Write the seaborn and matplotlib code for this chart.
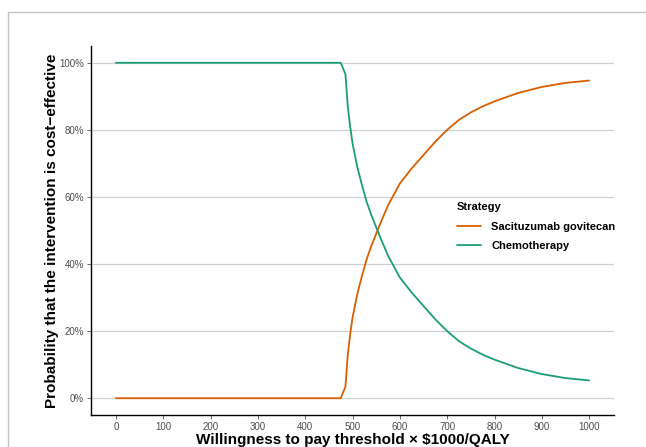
import numpy as np
import pandas as pd
import matplotlib.pyplot as plt
import seaborn as sns
from matplotlib.patches import Rectangle
from matplotlib.ticker import PercentFormatter

# ---- data ----
wtp = [0, 475, 485, 490, 495, 500, 510, 520, 530, 540, 550, 560, 575,
       600, 625, 650, 675, 700, 725, 750, 775, 800, 850, 900, 950, 1000]
sacituzumab = [0.0, 0.0, 3.4, 13.0, 19.0, 24.0, 31.0, 36.5, 41.5, 45.5, 49.0,
               52.5, 57.5, 64.0, 68.5, 72.5, 76.5, 80.0, 83.0, 85.2, 87.0,
               88.5, 91.0, 92.8, 94.0, 94.7]
chemotherapy = [100.0, 100.0, 96.6, 87.0, 81.0, 76.0, 69.0, 63.5, 58.5, 54.5,
                51.0, 47.5, 42.5, 36.0, 31.5, 27.5, 23.5, 20.0, 17.0, 14.8,
                13.0, 11.5, 9.0, 7.2, 6.0, 5.3]
strategies = ["Sacituzumab govitecan", "Chemotherapy"]
colors = ["#D95F02", "#1B9E77"]

df = pd.concat([
    pd.DataFrame({"wtp": wtp, "prob": sacituzumab, "Strategy": strategies[0]}),
    pd.DataFrame({"wtp": wtp, "prob": chemotherapy, "Strategy": strategies[1]}),
])

sns.set_style("white")
plt.rcParams['font.family'] = ['Liberation Sans', 'DejaVu Sans']

fig = plt.figure(figsize=(6.46, 4.47), dpi=100)
ax = fig.add_axes([0.1409, 0.0716, 0.8096, 0.8255])

# outer grey frame (cropped panel border), open to the right and bottom
top = 1 - 12 / 447
fig.patches.append(Rectangle((8 / 646, -0.1), 1.5, top + 0.1,
                             transform=fig.transFigure, fill=False,
                             edgecolor="#C4C4C4", lw=1.0, zorder=0))

sns.lineplot(data=df, x="wtp", y="prob", hue="Strategy", hue_order=strategies,
             palette=colors, lw=1.3, ax=ax, sort=False)

ax.set_xlim(-52.5, 1052.5)
ax.set_ylim(-5, 105)
ax.set_xticks(range(0, 1001, 100))
ax.set_yticks(range(0, 101, 20))
ax.yaxis.set_major_formatter(PercentFormatter(decimals=0))
ax.grid(axis="y", color="#D0D0D0", lw=0.9)
ax.grid(axis="x", visible=False)
ax.set_axisbelow(True)

for s in ["top", "right"]:
    ax.spines[s].set_visible(False)
for s in ["left", "bottom"]:
    ax.spines[s].set_color("black")
    ax.spines[s].set_linewidth(1.0)

ax.tick_params(axis="both", length=3, width=0.6, color="#4D4D4D",
               labelsize=7, labelcolor="#4D4D4D", pad=2, left=True, bottom=True)

ax.set_xlabel("Willingness to pay threshold × \\$1000/QALY",
              fontsize=11, fontweight="bold", labelpad=0.5, color="black")
ax.set_ylabel("Probability that the intervention is cost\u2212effective",
              fontsize=11, fontweight="bold", labelpad=0, color="black")

leg = ax.legend(title="Strategy", loc="center left", bbox_to_anchor=(0.68, 0.51),
                frameon=False, fontsize=8, handlelength=2.2, handletextpad=0.9,
                labelspacing=0.85)
leg.get_title().set_fontweight("bold")
leg.get_title().set_fontsize(8)
leg.get_title().set_color("black")
leg._legend_box.align = "left"
for t in leg.get_texts():
    t.set_fontweight("bold")
    t.set_color("black")

fig.savefig("out.png", dpi=100)
